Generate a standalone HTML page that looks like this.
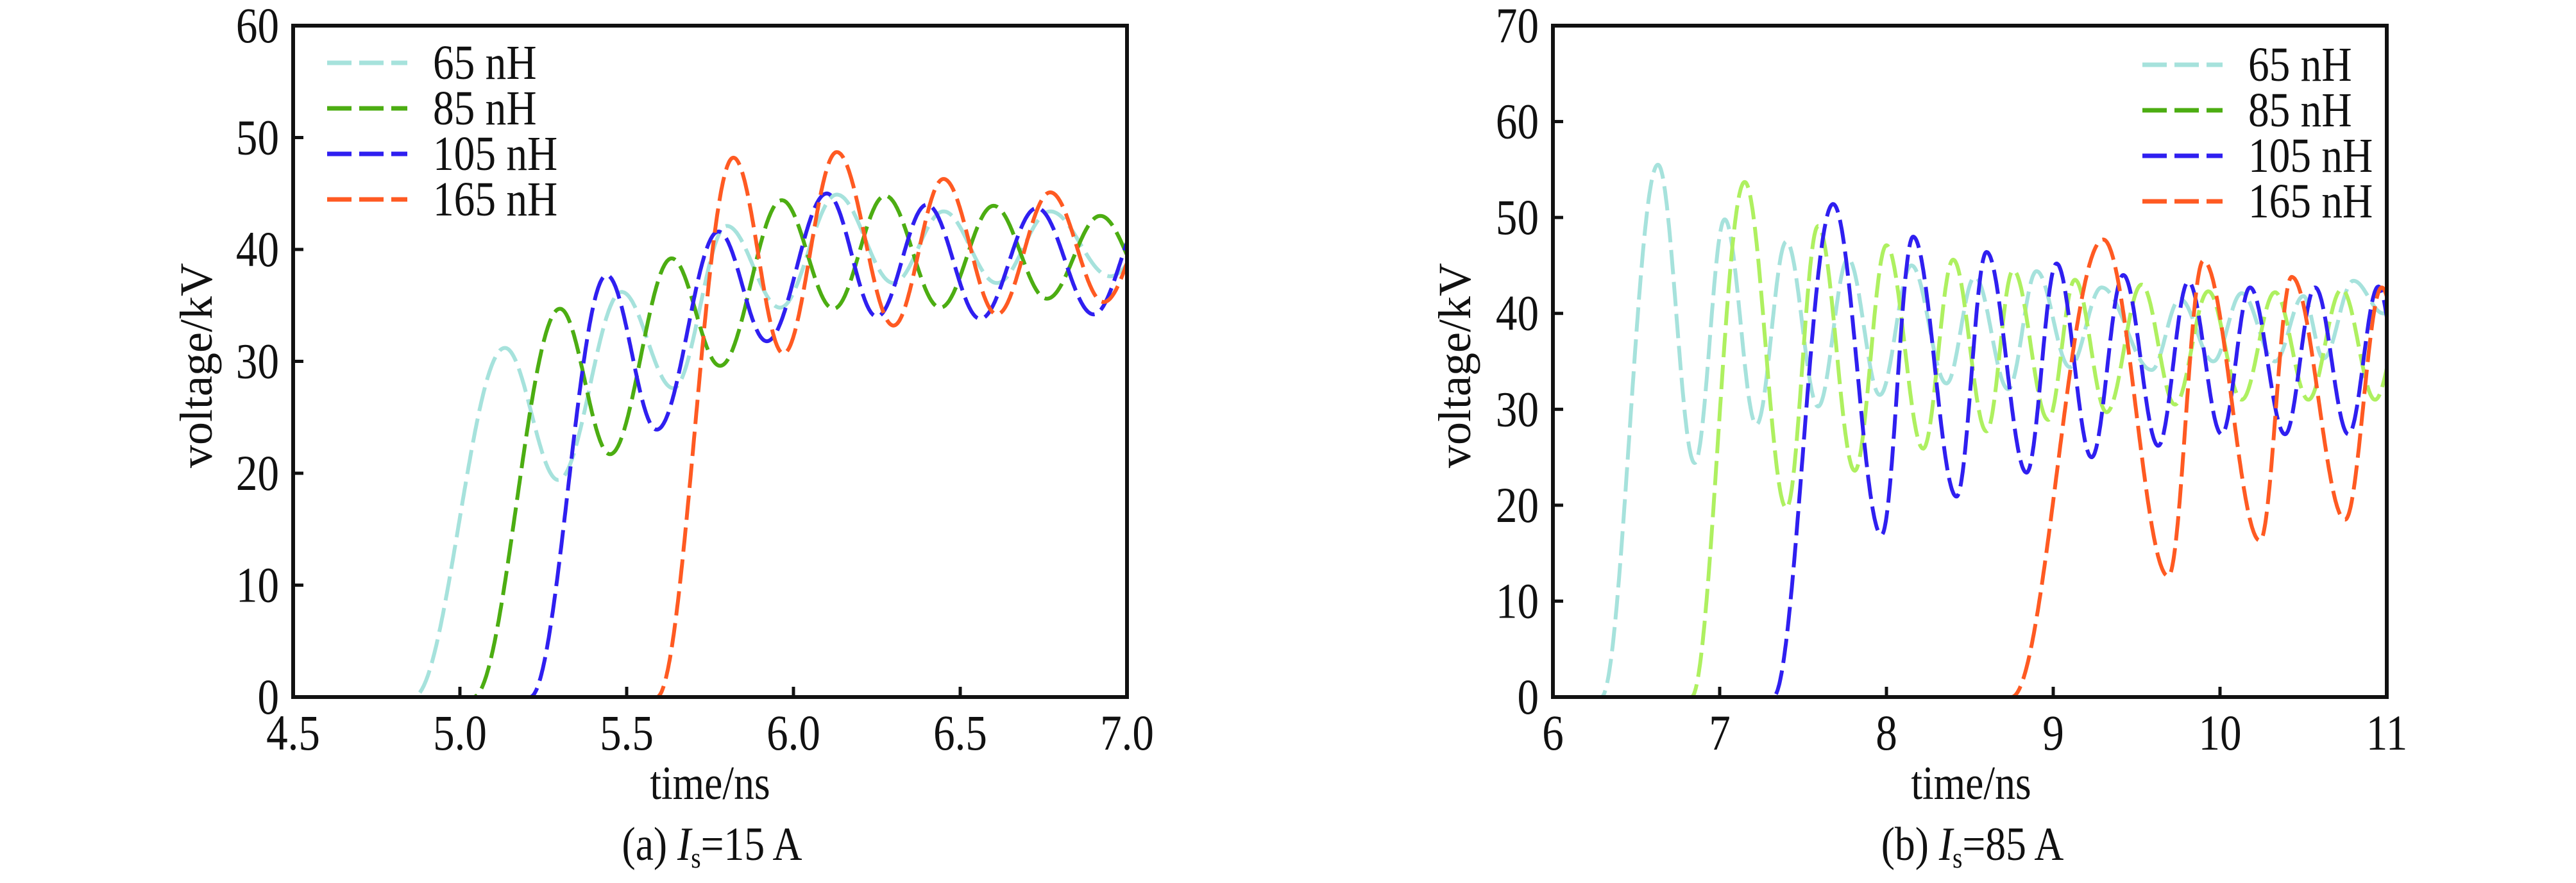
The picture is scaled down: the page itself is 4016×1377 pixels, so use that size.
<!DOCTYPE html>
<html><head><meta charset="utf-8"><style>
html,body{margin:0;padding:0;background:#fff;}
svg{display:block;}
text{font-family:"Liberation Serif",serif;fill:#111;}
</style></head><body>
<svg id="s" width="4016" height="1377" viewBox="0 0 4016 1377" xmlns="http://www.w3.org/2000/svg">
<g id="g"></g>
<g font-size="74">
<text transform="translate(1107,1246) scale(0.86,1)" text-anchor="middle">time/ns</text>
<text transform="translate(1110,1341) scale(0.86,1)" text-anchor="middle">(a) <tspan font-style="italic">I</tspan><tspan font-size="46" dy="12">s</tspan><tspan dy="-12">=15 A</tspan></text>
<text transform="translate(330,570) rotate(-90)" text-anchor="middle" font-size="72">voltage/kV</text>
<text transform="translate(3073,1246) scale(0.86,1)" text-anchor="middle">time/ns</text>
<text transform="translate(3075,1341) scale(0.86,1)" text-anchor="middle">(b) <tspan font-style="italic">I</tspan><tspan font-size="46" dy="12">s</tspan><tspan dy="-12">=85 A</tspan></text>
<text transform="translate(2292,570) rotate(-90)" text-anchor="middle" font-size="72">voltage/kV</text>
</g>
</svg>
<script>
const NS="http://www.w3.org/2000/svg";
const g=document.getElementById('g');
function el(t,a,txt){const e=document.createElementNS(NS,t);for(const k in a)e.setAttribute(k,a[k]);if(txt!==undefined)e.textContent=txt;g.appendChild(e);return e;}
const C={c:'#a6e2dc',g:'#4cad12',l:'#aef060',b:'#2f1ff0',o:'#ff5a22'};
function curve(pts){
  return function(t){
    if(t<=pts[0][0])return 0;
    for(let i=0;i<pts.length-1;i++){
      const a=pts[i],b=pts[i+1];
      if(t<=b[0]){const u=(t-a[0])/(b[0]-a[0]);const s=(1-Math.cos(Math.PI*u))/2;return a[1]+(b[1]-a[1])*s;}
    }
    return pts[pts.length-1][1];
  };
}
function T(x,y,txt,anchor,size){return el('text',{transform:`translate(${x},${y}) scale(0.86,1)`,'text-anchor':anchor,'font-size':size},txt);}
function plot(P){
  const {L,B,W,H,xmin,xmax,ymax,ystep,xticks,xlab,series,leg}=P;
  const X=t=>L+(t-xmin)/(xmax-xmin)*W, Y=v=>B-v/ymax*H;
  const id='c'+L;
  const cp=el('clipPath',{id});const r=document.createElementNS(NS,'rect');
  r.setAttribute('x',L);r.setAttribute('y',B-H);r.setAttribute('width',W);r.setAttribute('height',H);cp.appendChild(r);
  for(const s of series){
    const f=curve(s.pts);let d='';
    for(let i=0;i<=1400;i++){const t=xmin+(xmax-xmin)*i/1400;const v=f(t);d+=(i?'L':'M')+X(t).toFixed(1)+' '+Y(v).toFixed(1);}
    el('path',{d,fill:'none',stroke:s.col,'stroke-width':6,'stroke-dasharray':'38 12','clip-path':'url(#'+id+')'});
  }
  el('rect',{x:L,y:B-H,width:W,height:H,fill:'none',stroke:'#111','stroke-width':6});
  for(let i=0;i<xticks.length;i++){const x=X(xticks[i]);
    el('line',{x1:x,y1:B,x2:x,y2:B-16,stroke:'#111','stroke-width':5});
    T(x,B+82,xlab[i],'middle',78);}
  for(let v=0;v<=ymax;v+=ystep){const y=Y(v);
    el('line',{x1:L,y1:y,x2:L+16,y2:y,stroke:'#111','stroke-width':5});
    T(L-22,y+26,String(v),'end',78);}
  leg.items.forEach((it,i)=>{const y=leg.y+i*71;
    el('line',{x1:leg.x,y1:y,x2:leg.x+125,y2:y,stroke:it[1],'stroke-width':7,'stroke-dasharray':'38 12'});
    T(leg.x+165,y+25,it[0],'start',76);});
}
plot({L:457,B:1087,W:1300,H:1047,xmin:4.5,xmax:7,ymax:60,ystep:10,
 xticks:[4.5,5,5.5,6,6.5,7],xlab:['4.5','5.0','5.5','6.0','6.5','7.0'],
 series:[
  {col:C.c,pts:[[4.86,0],[5.135,31.2],[5.295,19.4],[5.485,36.2],[5.64,27.6],[5.80,42.1],[5.96,34.8],[6.13,44.9],[6.30,37],[6.45,43.4],[6.61,37],[6.77,43.4],[6.95,37.6],[7.1,42]]},
  {col:C.g,pts:[[5.04,0],[5.30,34.7],[5.45,21.7],[5.635,39.2],[5.78,29.6],[5.965,44.4],[6.12,34.7],[6.275,44.8],[6.44,34.8],[6.60,43.9],[6.76,35.6],[6.92,43],[7.08,36]]},
  {col:C.b,pts:[[5.21,0],[5.44,37.7],[5.59,23.9],[5.775,41.6],[5.92,31.8],[6.10,45.0],[6.25,34],[6.40,44],[6.56,33.8],[6.73,43.7],[6.90,34.2],[7.06,43.5]]},
  {col:C.o,pts:[[5.59,0],[5.82,48.2],[5.97,30.7],[6.13,48.7],[6.30,33.2],[6.45,46.3],[6.61,34.2],[6.77,45.1],[6.93,35.3],[7.09,44]]}
 ],
 leg:{x:510,y:98,items:[['65 nH',C.c],['85 nH',C.g],['105 nH',C.b],['165 nH',C.o]]}});
plot({L:2421,B:1087,W:1300,H:1047,xmin:6,xmax:11,ymax:70,ystep:10,
 xticks:[6,7,8,9,10,11],xlab:['6','7','8','9','10','11'],
 series:[
  {col:C.c,pts:[[6.29,0],[6.63,55.5],[6.85,24.4],[7.03,49.8],[7.22,28.4],[7.40,47.5],[7.59,30.3],[7.77,45.7],[7.96,31.5],[8.15,45],[8.36,32.7],[8.53,43.8],[8.73,32.1],[8.90,44.4],[9.10,34.4],[9.29,42.7],[9.59,34.1],[9.76,41.5],[9.96,35],[10.13,42.1],[10.33,35],[10.50,41.8],[10.62,35.3],[10.80,43.4],[10.98,40],[11.1,43]]},
  {col:C.l,pts:[[6.83,0],[7.15,53.7],[7.40,19.7],[7.59,49.1],[7.81,23.6],[8.0,47.1],[8.22,25.9],[8.40,45.6],[8.60,27.7],[8.76,44.5],[8.97,28.9],[9.13,43.5],[9.32,29.7],[9.53,43],[9.73,30.5],[9.93,42.3],[10.13,31],[10.33,42.2],[10.53,31],[10.73,42.5],[10.93,31],[11.1,40]]},
  {col:C.b,pts:[[7.32,0],[7.68,51.4],[7.97,16.9],[8.16,48],[8.42,20.9],[8.60,46.4],[8.84,23.4],[9.02,45.2],[9.23,25],[9.42,44],[9.63,26.2],[9.81,43.3],[10.01,27.4],[10.18,42.7],[10.39,27.4],[10.57,42.7],[10.77,27.4],[10.95,42.8],[11.1,30]]},
  {col:C.o,pts:[[8.75,0],[9.30,47.7],[9.69,12.6],[9.90,45.5],[10.24,16.3],[10.43,43.8],[10.75,18.5],[10.97,42.7],[11.2,20]]}
 ],
 leg:{x:3340,y:101,items:[['65 nH',C.c],['85 nH',C.g],['105 nH',C.b],['165 nH',C.o]]}});
</script>
</body></html>
